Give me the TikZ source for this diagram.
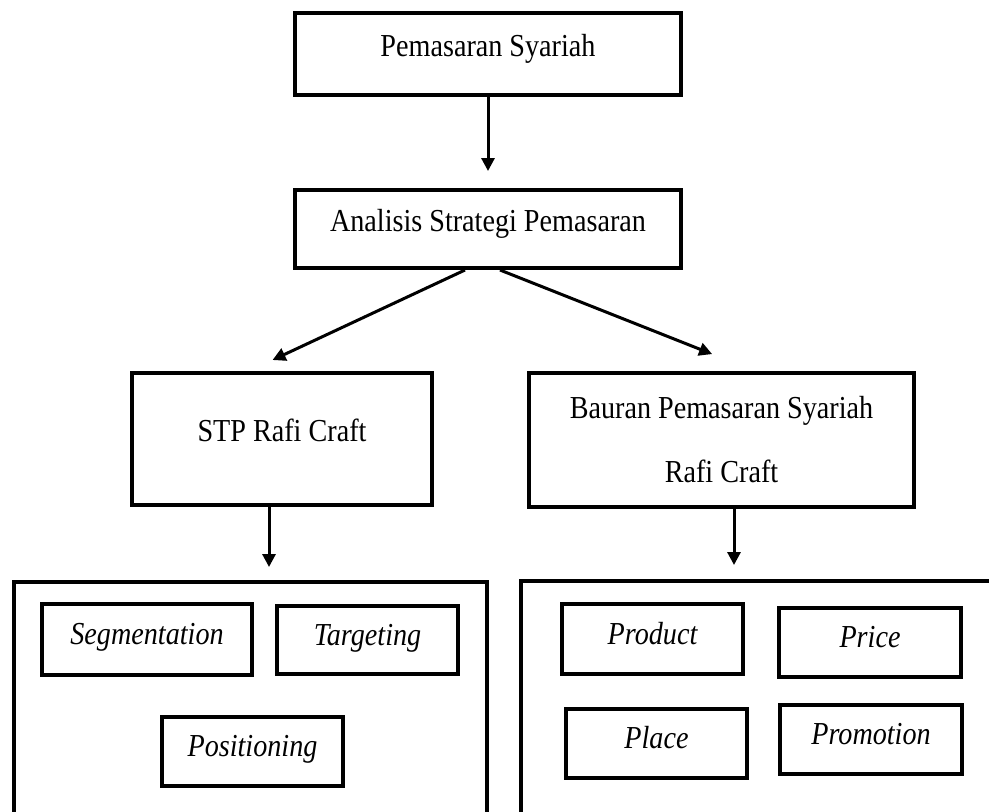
\documentclass[tikz,border=0pt]{standalone}
\usepackage{fontspec}
\setmainfont[FakeStretch=0.88]{Liberation Serif}
\usetikzlibrary{arrows.meta}

\begin{document}
\begin{tikzpicture}[
	x=0.5pt, y=-0.5pt,
	every node/.style={draw,line width=2pt,inner sep=0pt,font=\fontsize{16pt}{19pt}\selectfont},
	main/.style={text height=11pt,text depth=9pt},
	item/.style={
		minimum width=90.5pt,
		minimum height=34.5pt,
		text height=11pt,
		text depth=5.7pt,
		font=\fontsize{16pt}{19pt}\selectfont\itshape
	},
	grup/.style={minimum height=139pt},
	arr/.style={line width=1.5pt,-{Triangle[width=6.5pt,length=6.5pt]}}
]
\useasboundingbox (0,0) rectangle (989,811);
\clip (0,0) rectangle (989,811);

\node[main,minimum width=193pt,minimum height=41pt] (pemasaran) at (488,54) {Pemasaran Syariah};
\node[main,minimum width=193pt,minimum height=39pt] (analisis) at (488,229) {Analisis Strategi Pemasaran};
\node[main,minimum width=150pt,minimum height=66pt] (stp) at (282,439) {STP Rafi Craft};
\node[align=center,minimum width=192.5pt,minimum height=67pt,
	font=\fontsize{16pt}{32pt}\selectfont] (bauran) at (721.5,440) {Bauran Pemasaran Syariah\\Rafi Craft};

% kotak bawah
\node[grup,minimum width=236.5pt] (stpgrup) at (250.5,721) {};
\node[grup,minimum width=259.5pt] (bauranGrup) at (780.5,720) {};

\node[item,minimum width=105pt,minimum height=35.5pt] (seg) at (147,639.5) {Segmentation};
\node[item,minimum height=34pt] (tar) at (367.5,640) {Targeting};
\node[item] (pos) at (252.5,751.5) {Positioning};

\node[item,minimum height=35pt] (prod) at (652.5,639) {Product};
\node[item,minimum width=91pt] (price) at (870,642.5) {Price};
\node[item] (place) at (656.5,743.5) {Place};
\node[item,minimum width=91pt] (promo) at (871,739.5) {Promotion};

\draw[arr,shorten >=8.5pt] (pemasaran) -- (analisis);
\draw[arr,shorten >=13pt] ([xshift=-11.5pt]analisis.south) -- ([xshift=-16.5pt]stp.north);
\draw[arr,shorten >=23pt] ([xshift=6pt]analisis.south) -- ([xshift=16.7pt]bauran.north);
\draw[arr,shorten >=6.5pt] ([xshift=-6.5pt]stp.south) -- ([xshift=-6.5pt]stp.south |- stpgrup.north);
\draw[arr,shorten >=7pt] ([xshift=6.25pt]bauran.south) -- ([xshift=6.25pt]bauran.south |- bauranGrup.north);

\end{tikzpicture}
\end{document}
